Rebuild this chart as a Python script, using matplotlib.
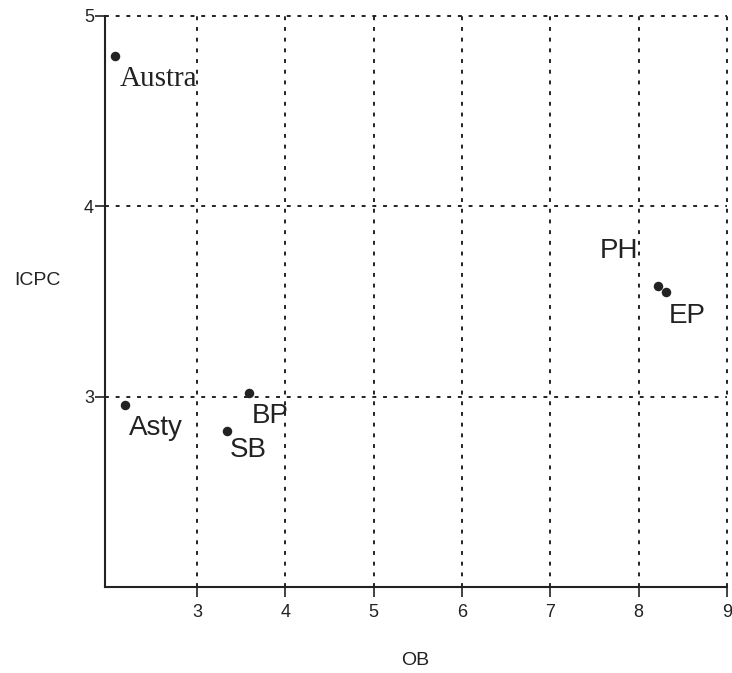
import matplotlib.pyplot as plt

# Data.
names = ["Austra", "Asty", "BP", "SB", "PH", "EP"]
ob = [2.07, 2.18, 3.585, 3.34, 8.22, 8.31]
icpc = [4.79, 2.956, 3.02, 2.82, 3.58, 3.55]
x_ticks = [3, 4, 5, 6, 7, 8, 9]
y_ticks = [3, 4, 5]

# Label placement (offset in points from the dot, alignment, family).
offsets = [(3.6, -21.6), (3, -21.6), (2.2, -21.6), (2.2, -18.7), (-14.4, 20), (2.2, -22.3)]
aligns = ["left", "left", "left", "left", "right", "left"]
families = ["Liberation Serif"] + ["Liberation Sans"] * 5

plt.rcParams["font.family"] = "Liberation Sans"
ink = "#222222"

fig = plt.figure(figsize=(7.32, 6.73), dpi=100)
ax = fig.add_axes([105 / 732, 1 - 587 / 673, 622 / 732, 571.3 / 673])

ax.scatter(ob, icpc, s=34, color=ink, zorder=3)

for name, x, y, off, ha, fam in zip(names, ob, icpc, offsets, aligns, families):
    ax.annotate(
        name,
        (x, y),
        xytext=off,
        textcoords="offset points",
        ha=ha,
        va="baseline",
        fontsize=21 if fam == "Liberation Serif" else 20,
        family=fam,
        color=ink,
    )

ax.set_xlim(1.958, 9.0)
ax.set_ylim(2.0, 5.0)
ax.set_xticks(x_ticks)
ax.set_yticks(y_ticks)
ax.tick_params(axis="both", direction="out", length=7, width=1.2,
               labelsize=13, colors=ink)
ax.tick_params(axis="y", pad=1)
ax.tick_params(axis="x", pad=5)

ax.grid(True, color=ink, linestyle=(0, (2, 3.5)), linewidth=1.4)
ax.set_axisbelow(True)
# grid lines sitting on the limits should not be cut in half
for line in ax.xaxis.get_gridlines() + ax.yaxis.get_gridlines():
    line.set_clip_on(False)

for side in ["top", "right"]:
    ax.spines[side].set_visible(False)
for side in ["left", "bottom"]:
    ax.spines[side].set_linewidth(1.5)
    ax.spines[side].set_color(ink)

ax.set_xlabel("OB", fontsize=14, color=ink, va="center")
ax.xaxis.set_label_coords(0.498, -0.128)
ax.set_ylabel("ICPC", fontsize=14, color=ink, rotation=0, ha="center", va="center")
ax.yaxis.set_label_coords(-0.109, 0.537)

fig.savefig("out.png", dpi=100)
